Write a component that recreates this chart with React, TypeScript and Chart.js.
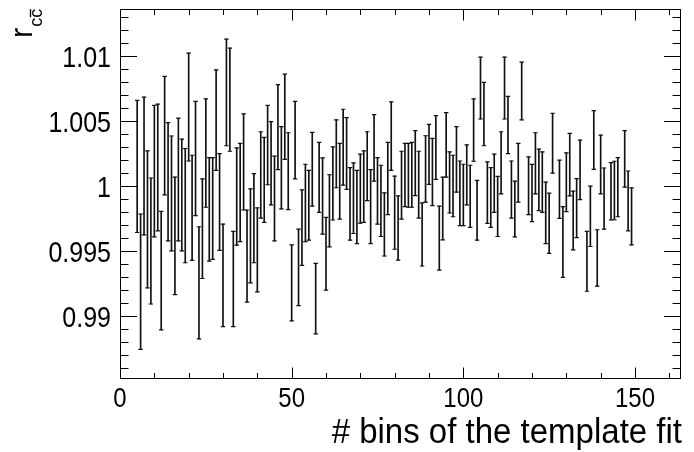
import React, { useEffect, useRef } from "react";
import { Chart, registerables } from "chart.js";

Chart.register(...registerables);

// number of bins of the template fit (x positions)
const binCounts = [
  5, 6, 7, 8, 9, 10, 11, 12, 13, 14,
  15, 16, 17, 18, 19, 20, 21, 22, 23, 24,
  25, 26, 27, 28, 29, 30, 31, 32, 33, 34,
  35, 36, 37, 38, 39, 40, 41, 42, 43, 44,
  45, 46, 47, 48, 49, 50, 51, 52, 53, 54,
  55, 56, 57, 58, 59, 60, 61, 62, 63, 64,
  65, 66, 67, 68, 69, 70, 71, 72, 73, 74,
  75, 76, 77, 78, 79, 80, 81, 82, 83, 84,
  85, 86, 87, 88, 89, 90, 91, 92, 93, 94,
  95, 96, 97, 98, 99, 100, 101, 102, 103, 104,
  105, 106, 107, 108, 109, 110, 111, 112, 113, 114,
  115, 116, 117, 119, 120, 121, 122, 123, 124, 125,
  126, 128, 129, 130, 131, 132, 133, 134, 136, 137,
  138, 139, 140, 141, 143, 144, 145, 147, 148, 149,
];

// upper end of the error bar of r_{c cbar}
const ratioHigh = [
  1.00662, 0.99788, 1.00687, 1.00274, 1.00065, 1.00623, 1.00633, 0.99809, 1.00846, 1.00491,
  1.00388, 1.00072, 1.00525, 1.00364, 1.00292, 1.01026, 1.0024, 1.00654, 0.9969, 1.00059,
  1.00674, 1.00222, 1.00222, 1.00897, 1.00253, 0.99711, 1.01134, 1.01064, 0.99654, 1.00297,
  1.00331, 1.00558, 0.99819, 0.99982, 1.00098, 0.99835, 1.00421, 1.00377, 1.00623, 1.00499,
  1.00233, 1.00783, 1.0046, 1.00864, 1.00413, 0.9955, 1.00654, 0.99672, 0.99974, 1.00171,
  1.00124, 1.00416, 0.99408, 1.00339, 1.0022, 0.99762, 1.0009, 1.00305, 1.00512, 1.00331,
  1.00594, 1.0053, 1.00145, 1.00181, 1.00124, 1.00248, 1.00274, 1.00421, 1.00129, 1.00553,
  1.00222, 1.00163, 0.99951, 1.00339, 1.00651, 1.0008, 0.99928, 1.00271, 1.00331, 1.00331,
  1.00339, 1.00429, 1.00271, 0.99873, 1.0039, 1.00478, 1.0037, 1.00545, 0.99848, 1.00072,
  1.00568, 1.00266, 1.0024, 1.0046, 1.00196, 1.00171, 1.0032, 1.00163, 1.00674, 1.00047,
  1.00995, 1.00801, 1.00189, 1.00145, 1.00248, 1.00078, 1.00421, 1.00995, 1.00693, 1.00196,
  1.00041, 1.00331, 1.00956, 1.00227, 1.0017, 1.00413, 1.00287, 1.00266, 1.00034, 0.99948,
  1.00563, 1.00202, 0.99845, 1.00258, 1.00408, 0.99964, 1.0006, 1.00357, 0.99654, 1.00003,
  1.00584, 0.99667, 1.00395, 1.00142, 1.00183, 1.00194, 1.00222, 1.00429, 1.00119, 0.99989,
];

// lower end of the error bar of r_{c cbar}
const ratioLow = [
  0.99646, 0.98747, 0.99628, 0.9922, 0.99096, 0.99612, 0.99659, 0.98897, 0.99935, 0.99581,
  0.99504, 0.99168, 0.99581, 0.99504, 0.99413, 1.00196, 0.99432, 0.99775, 0.98827, 0.99292,
  0.9984, 0.99426, 0.99439, 1.00124, 0.99509, 0.98922, 1.00313, 1.00271, 0.98922, 0.99548,
  0.99576, 0.99819, 0.99111, 0.99258, 0.99413, 0.99189, 0.99757, 0.99724, 1.00013, 0.99858,
  0.99581, 1.00129, 0.99827, 1.00209, 0.99822, 0.98966, 1.00059, 0.99083, 0.99393, 0.99576,
  0.99587, 0.99848, 0.98866, 0.99801, 0.99633, 0.99202, 0.99535, 0.99742, 0.9999, 0.99749,
  1.0001, 0.99977, 0.99587, 0.99638, 0.99561, 0.99718, 0.99724, 0.99891, 0.99561, 1.00041,
  0.99711, 0.99615, 0.99465, 0.99783, 1.00124, 0.99517, 0.99434, 0.99749, 0.99845, 0.9984,
  0.9984, 0.9993, 0.99757, 0.99388, 0.99879, 1.00016, 0.99853, 1.00054, 0.99357, 0.99589,
  1.00072, 0.99796, 0.99767, 0.99956, 0.99698, 0.99698, 0.99858, 0.99685, 1.00194, 0.99587,
  1.00519, 1.00313, 0.99716, 0.99685, 0.99801, 0.99615, 0.99943, 1.00519, 1.00253, 0.99757,
  0.99612, 0.99879, 1.00512, 0.99783, 0.99729, 0.99943, 0.99814, 0.99801, 0.99561, 0.99486,
  1.00103, 0.99755, 0.993, 0.99806, 0.99928, 0.99512, 0.99607, 0.99899, 0.99194, 0.99538,
  1.00132, 0.99233, 0.99943, 0.99672, 0.99742, 0.99744, 0.99767, 0.99995, 0.99659, 0.9955,
];

const xTickValues = [0, 50, 100, 150];
const xTickLabels = ["0", "50", "100", "150"];
const yTickValues = [0.99, 0.995, 1, 1.005, 1.01];
const yTickLabels = ["0.99", "0.995", "1", "1.005", "1.01"];
const xMinorStep = 10;
const yMinorStep = 0.001;
const xAxisMin = 0;
const xAxisMax = 163.4;
const yAxisMin = 0.98519;
const yAxisMax = 1.01365;
const xTitle = "# bins of the template fit";
const yTitleMain = "r";
const yTitleSub = "cc";

const FONT = "'Liberation Sans', Arial, Helvetica, sans-serif";

function stretchedText(
  ctx: CanvasRenderingContext2D,
  text: string,
  x: number,
  y: number,
  size: number,
  align: CanvasTextAlign,
  sy: number
) {
  ctx.save();
  ctx.translate(x, y);
  ctx.scale(1, sy);
  ctx.font = `${size}px ${FONT}`;
  ctx.textAlign = align;
  ctx.textBaseline = "alphabetic";
  ctx.fillStyle = "#000";
  ctx.fillText(text, 0, 0);
  ctx.restore();
}

const capsPlugin = {
  id: "errorCaps",
  afterDatasetsDraw(chart: any) {
    const ctx: CanvasRenderingContext2D = chart.ctx;
    const meta = chart.getDatasetMeta(0);
    ctx.save();
    ctx.strokeStyle = "#111";
    ctx.lineWidth = 1.2;
    meta.data.forEach((el: any) => {
      const p = el.getProps(["x", "y", "base"], true);
      ctx.beginPath();
      ctx.moveTo(p.x - 2.2, p.y);
      ctx.lineTo(p.x + 2.2, p.y);
      ctx.moveTo(p.x - 2.2, p.base);
      ctx.lineTo(p.x + 2.2, p.base);
      ctx.stroke();
    });
    ctx.restore();
  },
};

const framePlugin = {
  id: "rootFrame",
  afterDraw(chart: any) {
    const ctx: CanvasRenderingContext2D = chart.ctx;
    const a = chart.chartArea;
    const xs = chart.scales.x;
    const ys = chart.scales.y;
    const L = a.left + 0.5;
    const R = a.right - 0.5;
    const T = a.top + 0.5;
    const B = a.bottom - 0.5;
    ctx.save();
    ctx.strokeStyle = "#000";
    ctx.lineWidth = 1;
    ctx.strokeRect(L, T, R - L, B - T);

    ctx.beginPath();
    for (let v = xAxisMin; v <= xAxisMax + 1e-9; v += xMinorStep) {
      const major = xTickValues.some((t) => Math.abs(t - v) < 1e-6);
      const len = major ? 11 : 5.5;
      const px = Math.round(xs.getPixelForValue(v)) + 0.5;
      ctx.moveTo(px, B);
      ctx.lineTo(px, B - len);
      ctx.moveTo(px, T);
      ctx.lineTo(px, T + len);
    }
    const start = Math.ceil(yAxisMin / yMinorStep - 1e-6);
    const end = Math.floor(yAxisMax / yMinorStep + 1e-6);
    for (let k = start; k <= end; k++) {
      const v = k * yMinorStep;
      const major = yTickValues.some((t) => Math.abs(t - v) < 1e-7);
      const len = major ? 16.5 : 8;
      const py = Math.round(ys.getPixelForValue(v)) + 0.5;
      ctx.moveTo(L, py);
      ctx.lineTo(L + len, py);
      ctx.moveTo(R, py);
      ctx.lineTo(R - len, py);
    }
    ctx.stroke();

    xTickValues.forEach((v, i) => {
      stretchedText(ctx, xTickLabels[i], xs.getPixelForValue(v), 407, 24, "center", 1.15);
    });
    yTickValues.forEach((v, i) => {
      stretchedText(ctx, yTickLabels[i], 111, ys.getPixelForValue(v) + 10.5, 25, "right", 1.15);
    });

    stretchedText(ctx, xTitle, 682, 443, 33, "right", 1.08);

    ctx.save();
    ctx.translate(32, 38);
    ctx.rotate(-Math.PI / 2);
    ctx.fillStyle = "#000";
    ctx.textBaseline = "alphabetic";
    ctx.textAlign = "left";
    ctx.font = `31px ${FONT}`;
    ctx.fillText(yTitleMain, 0, 0);
    const rw = ctx.measureText(yTitleMain).width;
    ctx.font = `18px ${FONT}`;
    const subX = rw + 1;
    ctx.fillText(yTitleSub, subX, 10);
    const cw = ctx.measureText("c").width;
    ctx.lineWidth = 1.3;
    ctx.strokeStyle = "#000";
    ctx.beginPath();
    ctx.moveTo(subX + cw + 0.5, -1.5);
    ctx.lineTo(subX + 2 * cw - 0.5, -1.5);
    ctx.stroke();
    ctx.restore();

    ctx.restore();
  },
};

export default function App() {
  const canvasRef = useRef<HTMLCanvasElement | null>(null);

  useEffect(() => {
    document.body.style.margin = "0";
    const canvas = canvasRef.current;
    if (!canvas) return;
    const chart = new Chart(canvas, {
      type: "bar",
      data: {
        datasets: [
          {
            data: binCounts.map((n, i) => ({ x: n, y: [ratioLow[i], ratioHigh[i]] })) as any,
            backgroundColor: "#111",
            borderWidth: 0,
            barThickness: 1,
            grouped: false,
          } as any,
        ],
      },
      options: {
        responsive: false,
        animation: false,
        devicePixelRatio: 1,
        layout: { padding: { left: 120, right: 13, top: 9, bottom: 73 } },
        plugins: {
          legend: { display: false },
          tooltip: { enabled: false },
          title: { display: false },
        },
        scales: {
          x: { type: "linear", min: xAxisMin, max: xAxisMax, offset: false, display: false },
          y: { type: "linear", min: yAxisMin, max: yAxisMax, display: false },
        },
      } as any,
      plugins: [capsPlugin, framePlugin],
    });
    return () => chart.destroy();
  }, []);

  return (
    <div style={{ position: "absolute", left: 0, top: 0, width: 694, height: 452, background: "#fff" }}>
      <canvas ref={canvasRef} width={694} height={452} style={{ display: "block" }} />
    </div>
  );
}
